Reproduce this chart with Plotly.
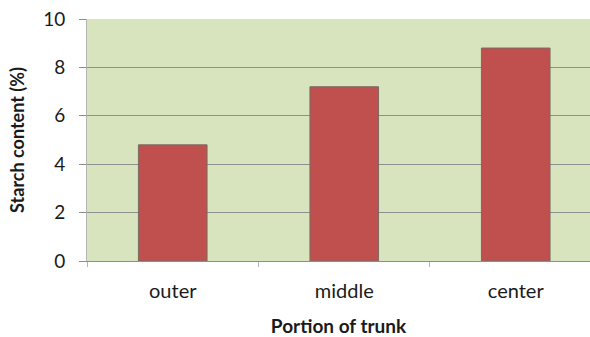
import plotly.graph_objects as go

# Starch content by portion of trunk
portions = ["outer", "middle", "center"]
starch_pct = [4.8, 7.2, 8.8]
y_ticks = [0, 2, 4, 6, 8, 10]

FONT = "Lato, Carlito, 'Open Sans', sans-serif"
GRID = "#8e8e8e"

fig = go.Figure(
    go.Bar(
        x=portions,
        y=starch_pct,
        width=0.4,
        marker=dict(color="#C0504D", line=dict(color="#7a6a64", width=1)),
    )
)

fig.update_layout(
    width=590,
    height=337,
    margin=dict(l=87, r=0, t=19, b=76),
    paper_bgcolor="white",
    plot_bgcolor="#D7E4BD",
    showlegend=False,
    font=dict(family=FONT, size=20, color="#1a1a1a"),
    bargap=0.6,
)

fig.update_xaxes(
    range=[-0.5, 2.433],
    showline=True,
    linecolor=GRID,
    linewidth=1,
    ticks="outside",
    tickson="boundaries",
    ticklen=5,
    tickcolor="#b5b5b5",
    ticklabelstandoff=12,
    tickfont=dict(size=20),
    showgrid=False,
    title=dict(text="<b>Portion of trunk</b>", font=dict(size=19), standoff=18),
)

fig.update_yaxes(
    range=[0, 10],
    tickvals=y_ticks,
    showline=True,
    linecolor="#b5b5b5",
    linewidth=1,
    ticks="outside",
    ticklen=7,
    tickcolor=GRID,
    ticklabelstandoff=10,
    tickfont=dict(size=19),
    showgrid=True,
    gridcolor=GRID,
    gridwidth=1,
    zeroline=False,
    title=dict(text="<b>Starch content (%)</b>", font=dict(size=18), standoff=13),
)

fig.write_html("out.html")
